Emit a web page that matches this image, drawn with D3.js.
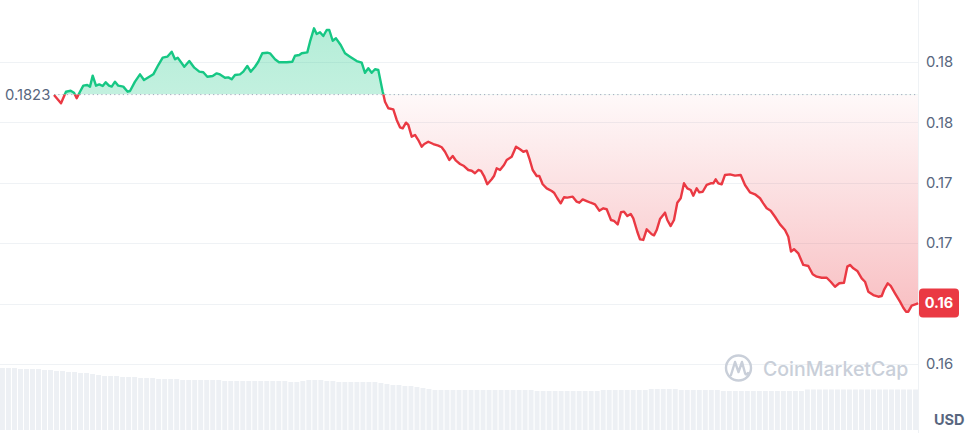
<!DOCTYPE html>
<html>
<head>
<meta charset="utf-8">
<script src="https://cdn.jsdelivr.net/npm/d3@7"></script>
<style>
  html, body { margin: 0; padding: 0; background: #fff; }
  svg { display: block; font-family: Inter, "Noto Sans", sans-serif; }
</style>
</head>
<body>
<svg id="chart" width="967" height="433"></svg>
<script>
// minutes from the first point
const times = [0,7,12,16.7,20,22.7,26,29.3,33.3,36,38.7,42,45.3,48.7,51.7,55,57.7,61,64.3,69.3,73.7,76,81,86,90,95.3,99.3,104.3,108.7,113.3,117.7,121,123.7,130.3,135.3,140.3,145.3,149.3,153.3,158.7,162.7,166,171,174.3,177.7,181,186,189.3,193.3,196.7,201,204.3,208.3,213.3,216,221,225,232.7,238.3,241,245.3,247.7,253.3,256,260,262.7,266,269.3,272.7,275.3,278.7,282,286.7,291,296,302.7,307.7,311,314.3,317.7,321,324.3,328.7,329.3,331,334.3,339.3,342.7,346,348.7,352,354.3,357.7,361,364.3,367.7,370.3,374.3,379.3,384.3,387.7,391,395.3,398.7,402,406,410,414.3,417.7,421,424.3,427,430,433.3,437.7,440,442.7,446,450,452.7,457.7,462,466,469.3,472.7,475.3,478.7,482.7,485.3,488.7,492.7,497.7,500,503.3,506.7,510,513.3,518.7,522.7,525.3,528.7,532.7,536.7,541,545.3,549.3,552.7,557,560,563.7,567,570,573.3,576.7,579.3,583.3,586,589.3,592.7,597.7,600,602.7,606,611,613.3,616.7,620,623.3,626.7,630,633.3,636.7,639.3,642.7,645.3,648.7,652.7,656.7,659.3,661.7,664.3,667.7,671,676,681,686.7,691,696,701,706,709.3,712.7,716.7,721,726,731,734.3,737,740,744.3,749.3,754.3,758.7,762.7,767.7,772.7,776.7,781,785.3,790,793.3,796,799.3,803.3,807.7,811,814.3,819.3,824.3,827.7,830,833.7,836.7,841,846,849.3,852,854.3,857.7,862.7,864];
// price in USD
const prices = [0.18227,0.18158,0.18254,0.18262,0.18246,0.18200,0.18254,0.18304,0.18310,0.18296,0.18387,0.18304,0.18315,0.18301,0.18332,0.18304,0.18296,0.18337,0.18304,0.18296,0.18254,0.18260,0.18337,0.18398,0.18351,0.18378,0.18398,0.18475,0.18536,0.18544,0.18585,0.18522,0.18536,0.18461,0.18508,0.18453,0.18420,0.18415,0.18378,0.18384,0.18406,0.18397,0.18370,0.18373,0.18357,0.18392,0.18398,0.18420,0.18467,0.18420,0.18461,0.18502,0.18572,0.18577,0.18572,0.18522,0.18498,0.18498,0.18502,0.18552,0.18558,0.18572,0.18580,0.18668,0.18779,0.18732,0.18746,0.18715,0.18765,0.18765,0.18676,0.18696,0.18641,0.18572,0.18544,0.18508,0.18494,0.18411,0.18448,0.18411,0.18440,0.18434,0.18254,0.18235,0.18171,0.18117,0.18108,0.18020,0.17959,0.17951,0.17998,0.17979,0.17882,0.17896,0.17854,0.17799,0.17821,0.17840,0.17821,0.17807,0.17794,0.17757,0.17689,0.17722,0.17683,0.17656,0.17639,0.17606,0.17600,0.17579,0.17606,0.17598,0.17556,0.17488,0.17529,0.17556,0.17620,0.17606,0.17647,0.17689,0.17716,0.17799,0.17777,0.17757,0.17766,0.17703,0.17606,0.17556,0.17556,0.17488,0.17454,0.17432,0.17418,0.17372,0.17330,0.17380,0.17377,0.17385,0.17344,0.17335,0.17363,0.17349,0.17335,0.17322,0.17269,0.17289,0.17281,0.17192,0.17184,0.17156,0.17256,0.17261,0.17225,0.17242,0.17206,0.17095,0.17032,0.17027,0.17115,0.17074,0.17065,0.17109,0.17200,0.17253,0.17192,0.17142,0.17192,0.17335,0.17372,0.17496,0.17454,0.17440,0.17393,0.17454,0.17421,0.17426,0.17482,0.17496,0.17496,0.17529,0.17496,0.17488,0.17565,0.17570,0.17559,0.17565,0.17482,0.17421,0.17405,0.17372,0.17330,0.17289,0.17269,0.17219,0.17156,0.17109,0.17054,0.16930,0.16950,0.16916,0.16820,0.16811,0.16743,0.16723,0.16714,0.16714,0.16681,0.16640,0.16668,0.16673,0.16806,0.16820,0.16792,0.16770,0.16709,0.16681,0.16599,0.16571,0.16557,0.16563,0.16613,0.16668,0.16646,0.16585,0.16516,0.16466,0.16433,0.16433,0.16483,0.16497,0.16505];
const basePrice = 0.1823;
const basePriceLabel = "0.1823";
const lastPriceLabel = "0.16";
const yTickValues = [0.185, 0.18, 0.175, 0.17, 0.165, 0.16];
const yTickLabels = ["0.18", "0.18", "0.17", "0.17", "0.16", "0.16"];
const currencyLabel = "USD";
// volume (relative units), one bar per slot
const volumes = [62,62,62,61,61,61,61, 60,60,59,59, 58,58,57,57,56,55, 54,54,54,53,53,53,52,
  52,52,51,51,51,51,50,50,50,50, 50,50,50,49,49,49,49,49,49,49,49,49,49,
  49,48,48,49,50,50,50,49,49, 48,48,48,48,48,48,48,47,46, 45,45,44,44,43,42, 41,40,
  40,40,40,40,40,40,40,40,40,40,40,40,40,40,40,40,
  39,39,39,39,39,39,39,39,39,39,39, 40,40,40,40,40,40,40,40, 41,41,41,41,41,
  40,40,40,40,40,40,40, 39,39,39,39,39,39,39,39,39,39,39,39,39,39,
  40.5,40.5,40.5,40.5,40.5,40.5,40.5,40.5,40.5,40.5,40.5,40.5,40.5,40.5,40.5,40.5,40.5,40.5,40.5];

const W = 967, H = 433;
const plotRight = 918;
const svg = d3.select("#chart");
const defs = svg.append("defs");

const x = d3.scaleLinear().domain([0, 864]).range([54, plotRight]);
const y = d3.scaleLinear().domain([0.16, 0.185]).range([364, 62]);
const xb = d3.scaleBand().domain(d3.range(volumes.length)).range([0, plotRight]).paddingInner(0.18);
const yv = d3.scaleLinear().domain([0, 62]).range([430, 368]);

const yBase = y(basePrice);
const last = prices[prices.length - 1];

// gradients
const gRed = defs.append("linearGradient").attr("id", "gRed")
  .attr("gradientUnits", "userSpaceOnUse").attr("x1", 0).attr("x2", 0)
  .attr("y1", yBase).attr("y2", y(0.1643));
gRed.append("stop").attr("offset", 0).attr("stop-color", "#ea3943").attr("stop-opacity", 0.03);
gRed.append("stop").attr("offset", 1).attr("stop-color", "#ea3943").attr("stop-opacity", 0.32);
const gGreen = defs.append("linearGradient").attr("id", "gGreen")
  .attr("gradientUnits", "userSpaceOnUse").attr("x1", 0).attr("x2", 0)
  .attr("y1", y(0.1878)).attr("y2", yBase);
gGreen.append("stop").attr("offset", 0).attr("stop-color", "#16c784").attr("stop-opacity", 0.32);
gGreen.append("stop").attr("offset", 1).attr("stop-color", "#16c784").attr("stop-opacity", 0.26);

defs.append("clipPath").attr("id", "clipAbove").append("rect")
  .attr("x", 0).attr("y", 0).attr("width", W).attr("height", yBase);
defs.append("clipPath").attr("id", "clipBelow").append("rect")
  .attr("x", 0).attr("y", yBase).attr("width", W).attr("height", H - yBase);

// volume bars
svg.append("g").selectAll("rect").data(volumes).join("rect")
  .attr("x", (d, i) => xb(i)).attr("width", xb.bandwidth())
  .attr("y", d => yv(d)).attr("height", d => yv(0) - yv(d))
  .attr("fill", "#edf0f4");

// grid
svg.append("g").selectAll("line").data(yTickValues).join("line")
  .attr("x1", 0).attr("x2", plotRight)
  .attr("y1", d => Math.round(y(d)) + 0.5).attr("y2", d => Math.round(y(d)) + 0.5)
  .attr("stroke", "#eff2f5").attr("stroke-width", 1);
svg.append("line").attr("x1", plotRight + 0.5).attr("x2", plotRight + 0.5)
  .attr("y1", 0).attr("y2", H).attr("stroke", "#eff2f5");

// watermark
const wm = svg.append("g").attr("fill", "none").attr("stroke", "#c9cfd9");
wm.append("circle").attr("cx", 738.5).attr("cy", 368).attr("r", 12.5).attr("stroke-width", 2.4);
wm.append("path").attr("stroke-width", 2.4).attr("stroke-linecap", "round").attr("stroke-linejoin", "round")
  .attr("d", "M731,375 L735,362 L738.5,372 L742,362 L745,373 Q746,376 748,373");
svg.append("text").attr("x", 763).attr("y", 375.5).text("CoinMarketCap")
  .attr("fill", "#c9cfd9").attr("font-size", 19.5).attr("font-weight", 500);

// areas
const data = times.map((t, i) => ({ t, p: prices[i] }));
const area = d3.area().x(d => x(d.t)).y0(yBase).y1(d => y(d.p));
const line = d3.line().x(d => x(d.t)).y(d => y(d.p));
svg.append("path").datum(data).attr("d", area).attr("fill", "url(#gGreen)").attr("clip-path", "url(#clipAbove)");
svg.append("path").datum(data).attr("d", area).attr("fill", "url(#gRed)").attr("clip-path", "url(#clipBelow)");

// baseline dotted
svg.append("line").attr("x1", 54).attr("x2", plotRight).attr("y1", yBase).attr("y2", yBase)
  .attr("stroke", "#a1a7bb").attr("stroke-width", 1).attr("stroke-dasharray", "1.2,3.1");

// lines
svg.append("path").datum(data).attr("d", line).attr("fill", "none").attr("stroke", "#16c784")
  .attr("stroke-width", 2.4).attr("stroke-linejoin", "round").attr("clip-path", "url(#clipAbove)");
svg.append("path").datum(data).attr("d", line).attr("fill", "none").attr("stroke", "#ea3943")
  .attr("stroke-width", 2.4).attr("stroke-linejoin", "round").attr("clip-path", "url(#clipBelow)");

// base label
svg.append("text").attr("x", 5).attr("y", yBase + 5.5).text(basePriceLabel)
  .attr("fill", "#58667e").attr("font-size", 14.8);

// y axis labels (the one hidden under the last-price badge is skipped)
const shownTicks = yTickValues.filter(v => Math.abs(y(v) - y(last)) > 16);
const axis = d3.axisRight(y).tickValues(shownTicks).tickSize(0).tickPadding(0)
  .tickFormat(v => yTickLabels[yTickValues.indexOf(v)]);
const ag = svg.append("g").attr("transform", `translate(926,0)`).call(axis);
ag.select(".domain").remove();
ag.selectAll("text").attr("fill", "#58667e").attr("font-size", 14.8).attr("font-family", "Inter, sans-serif");

// last price badge
svg.append("rect").attr("x", 919).attr("y", y(last) - 14.5).attr("width", 40).attr("height", 29)
  .attr("rx", 4).attr("fill", "#ea3943");
svg.append("text").attr("x", 939).attr("y", y(last) + 5.5).attr("text-anchor", "middle")
  .text(lastPriceLabel).attr("fill", "#fff").attr("font-size", 14.5).attr("font-weight", 700);

svg.append("text").attr("x", 934).attr("y", 425).text(currencyLabel)
  .attr("fill", "#58667e").attr("font-size", 14.5).attr("font-weight", 700);
</script>
</body>
</html>
